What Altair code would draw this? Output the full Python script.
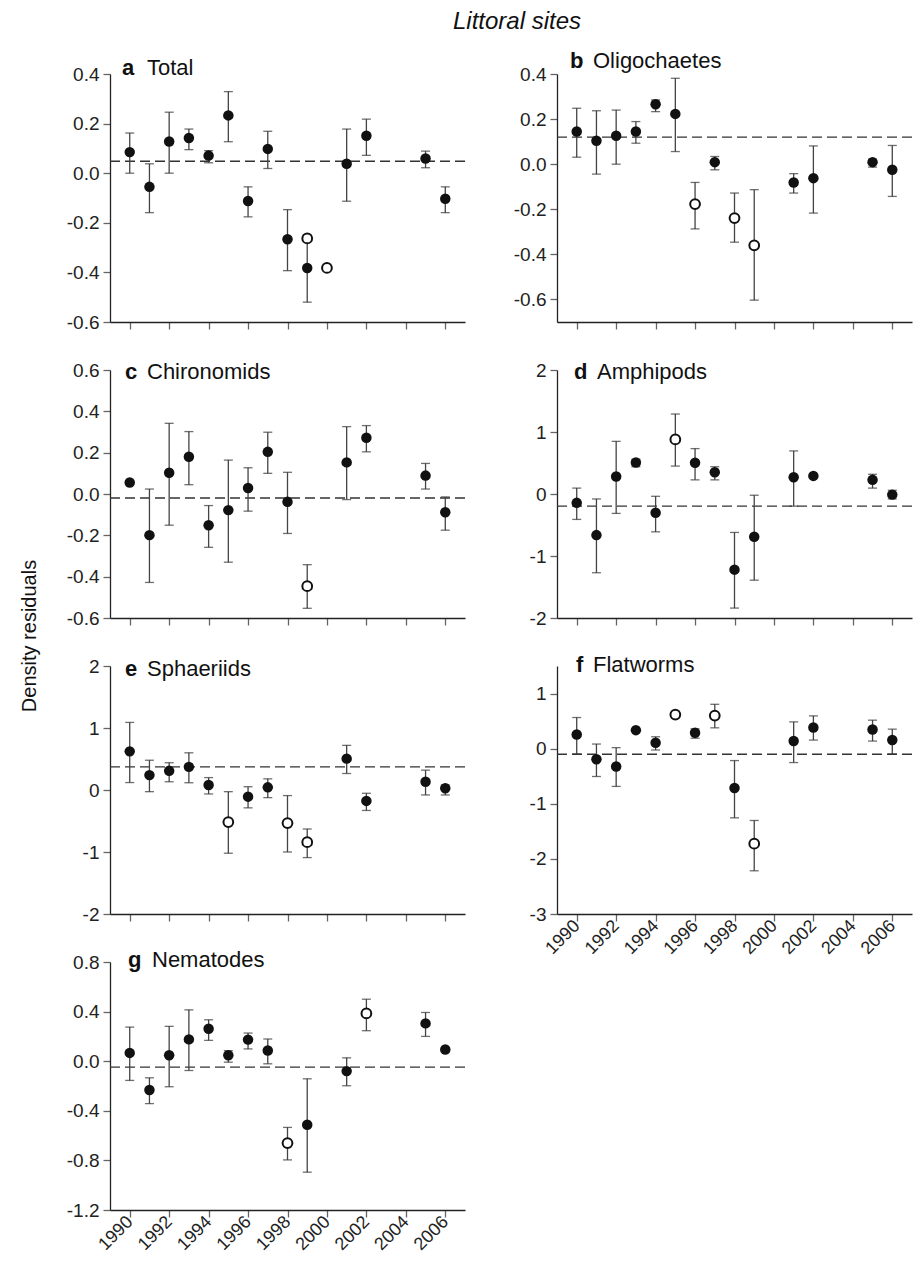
import altair as alt
import pandas as pd

FONT = "Liberation Sans"

# ---------------- data ----------------
YEARS = [1990, 1991, 1992, 1993, 1994, 1995, 1996, 1997, 1998, 1999, 2001, 2002, 2005, 2006]
X_TICKS = [1990, 1992, 1994, 1996, 1998, 2000, 2002, 2004, 2006]

# a Total
a_year = [1990, 1991, 1992, 1993, 1994, 1995, 1996, 1997, 1998, 1999, 1999, 2000, 2001, 2002, 2005, 2006]
a_val = [0.085, -0.055, 0.128, 0.142, 0.071, 0.233, -0.112, 0.098, -0.266, -0.382, -0.263, -0.382, 0.038, 0.151, 0.059, -0.103]
a_lo = [0.0, -0.159, 0.0, 0.095, 0.042, 0.127, -0.176, 0.019, -0.393, -0.52, None, None, -0.113, 0.072, 0.022, -0.159]
a_hi = [0.162, 0.038, 0.246, 0.178, 0.091, 0.329, -0.055, 0.169, -0.147, -0.25, None, None, 0.178, 0.218, 0.089, -0.055]
a_open = [0, 0, 0, 0, 0, 0, 0, 0, 0, 0, 1, 1, 0, 0, 0, 0]
a_mean = 0.048

# b Oligochaetes
b_val = [0.145, 0.104, 0.126, 0.145, 0.266, 0.223, -0.177, 0.009, -0.239, -0.360, -0.081, -0.062, 0.009, -0.025]
b_lo = [0.031, -0.044, 0.0, 0.093, 0.233, 0.056, -0.287, -0.025, -0.346, -0.603, -0.128, -0.217, -0.013, -0.143]
b_hi = [0.248, 0.237, 0.24, 0.189, 0.285, 0.381, -0.081, 0.034, -0.128, -0.113, -0.042, 0.081, 0.022, 0.083]
b_open = [0, 0, 0, 0, 0, 0, 1, 0, 1, 1, 0, 0, 0, 0]
b_mean = 0.12

# c Chironomids
c_val = [0.056, -0.199, 0.103, 0.18, -0.151, -0.078, 0.029, 0.204, -0.038, -0.446, 0.153, 0.272, 0.089, -0.088]
c_lo = [None, -0.428, -0.151, 0.045, -0.258, -0.33, -0.083, 0.1, -0.191, -0.553, -0.027, 0.204, 0.024, -0.175]
c_hi = [None, 0.024, 0.342, 0.302, -0.056, 0.164, 0.127, 0.299, 0.105, -0.342, 0.326, 0.331, 0.148, -0.014]
c_open = [0, 0, 0, 0, 0, 0, 0, 0, 0, 1, 0, 0, 0, 0]
c_mean = -0.019

# d Amphipods
d_val = [-0.143, -0.663, 0.281, 0.509, -0.302, 0.88, 0.504, 0.35, -1.22, -0.69, 0.27, 0.292, 0.228, -0.01]
d_lo = [-0.41, -1.27, -0.313, 0.44, -0.61, 0.45, 0.228, 0.228, -1.84, -1.39, -0.196, None, 0.095, -0.08]
d_hi = [0.095, -0.08, 0.849, 0.56, -0.037, 1.29, 0.732, 0.44, -0.62, -0.02, 0.695, None, 0.318, 0.06]
d_open = [0, 0, 0, 0, 0, 1, 0, 0, 0, 0, 0, 0, 0, 0]
d_mean = -0.196

# e Sphaeriids
e_val = [0.623, 0.24, 0.309, 0.373, 0.08, -0.517, -0.107, 0.043, -0.533, -0.842, 0.506, -0.176, 0.133, 0.027]
e_lo = [0.12, -0.027, 0.133, 0.117, -0.064, -1.02, -0.288, -0.123, -1.0, -1.09, 0.266, -0.33, -0.08, -0.08]
e_hi = [1.09, 0.48, 0.44, 0.6, 0.2, -0.027, 0.053, 0.18, -0.09, -0.629, 0.72, -0.053, 0.32, 0.08]
e_open = [0, 0, 0, 0, 0, 1, 0, 0, 1, 1, 0, 0, 0, 0]
e_mean = 0.373

# f Flatworms
f_val = [0.258, -0.192, -0.324, 0.336, 0.108, 0.619, 0.288, 0.60, -0.715, -1.724, 0.138, 0.384, 0.348, 0.156]
f_lo = [-0.096, -0.505, -0.685, None, -0.024, None, 0.19, 0.378, -1.255, -2.216, -0.252, 0.156, 0.138, -0.096]
f_hi = [0.565, 0.084, 0.018, None, 0.216, None, 0.36, 0.805, -0.216, -1.303, 0.486, 0.595, 0.517, 0.354]
f_open = [0, 0, 0, 0, 0, 1, 0, 1, 0, 1, 0, 0, 0, 0]
f_mean = -0.1

# g Nematodes
g_val = [0.067, -0.232, 0.048, 0.176, 0.262, 0.048, 0.174, 0.086, -0.66, -0.513, -0.08, 0.385, 0.305, 0.094]
g_lo = [-0.155, -0.342, -0.206, -0.075, 0.168, -0.008, 0.099, -0.021, -0.796, -0.895, -0.198, 0.246, 0.2, None]
g_hi = [0.275, -0.134, 0.281, 0.414, 0.334, 0.085, 0.227, 0.179, -0.534, -0.142, 0.027, 0.5, 0.393, None]
g_open = [0, 0, 0, 0, 0, 0, 0, 0, 1, 0, 0, 1, 0, 0]
g_mean = -0.048

# ---------------- layout / style ----------------
W, H = 355, 248
DEC_FMT = "(datum.value < 0 ? '-' : '') + format(abs(datum.value), '.1f')"
INT_FMT = "(datum.value < 0 ? '-' : '') + format(abs(datum.value), 'd')"


def frame(year, val, lo, hi, opn):
    return pd.DataFrame({"year": year, "val": val, "lo": lo, "hi": hi, "open": opn})


def panel(letter, name, df, mean, ydom, yticks, fmt, xlabels, pos, extra=None):
    lx, ly, nx = pos
    xenc = alt.X("year:Q",
                 scale=alt.Scale(domain=[1989, 2007], nice=False, zero=False),
                 axis=alt.Axis(values=X_TICKS, format="d", labels=xlabels, labelAngle=-45,
                               labelAlign="right", labelBaseline="middle",
                               labelOverlap=False, labelFontSize=18, labelPadding=2,
                               title=None))
    yaxis = alt.Axis(values=yticks, labelExpr=fmt, title=None)
    yscale = alt.Scale(domain=ydom, nice=False, zero=False)

    bars = df.dropna(subset=["lo", "hi"])
    filled = df[df["open"] == 0]
    opened = df[df["open"] == 1]

    layers = [
        alt.Chart(pd.DataFrame({"m": [mean]})).mark_rule(
            color="#333", strokeWidth=1.4, strokeDash=[10, 5]
        ).encode(y=alt.Y("m:Q", scale=yscale, axis=yaxis)),
        alt.Chart(bars).mark_rule(color="#444", strokeWidth=1.3).encode(
            x=xenc, y=alt.Y("lo:Q", scale=yscale, axis=yaxis), y2="hi:Q"),
        alt.Chart(bars).mark_tick(orient="horizontal", size=9, thickness=1.3, color="#333").encode(
            x=xenc, y=alt.Y("lo:Q", scale=yscale, axis=yaxis)),
        alt.Chart(bars).mark_tick(orient="horizontal", size=9, thickness=1.3, color="#333").encode(
            x=xenc, y=alt.Y("hi:Q", scale=yscale, axis=yaxis)),
        alt.Chart(filled).mark_point(shape="circle", filled=True, size=110, color="#111",
                                     opacity=1).encode(
            x=xenc, y=alt.Y("val:Q", scale=yscale, axis=yaxis)),
        alt.Chart(opened).mark_point(shape="circle", filled=False, size=95, fill="white",
                                     fillOpacity=1, stroke="#111", strokeWidth=2,
                                     opacity=1).encode(
            x=xenc, y=alt.Y("val:Q", scale=yscale, axis=yaxis)),
        alt.Chart(pd.DataFrame({"t": [letter]})).mark_text(
            align="left", baseline="alphabetic", font=FONT, fontSize=22, fontWeight="bold",
            color="#111").encode(x=alt.value(lx), y=alt.value(ly), text="t:N"),
        alt.Chart(pd.DataFrame({"t": [name]})).mark_text(
            align="left", baseline="alphabetic", font=FONT, fontSize=22, color="#111").encode(
            x=alt.value(nx), y=alt.value(ly), text="t:N"),
    ]
    if extra is not None:
        layers.extend(extra)
    return alt.layer(*layers).properties(width=W, height=H)


main_title = alt.Chart(pd.DataFrame({"t": ["Littoral sites"]})).mark_text(
    align="center", baseline="middle", font=FONT, fontSize=24, fontStyle="italic",
    color="#111").encode(x=alt.value(-40), y=alt.value(-52), text="t:N")

y_title = alt.Chart(pd.DataFrame({"t": ["Density residuals"]})).mark_text(
    align="center", baseline="middle", font=FONT, fontSize=20, angle=270,
    color="#111").encode(x=alt.value(-80), y=alt.value(-30), text="t:N")

pa = panel("a", "Total", frame(a_year, a_val, a_lo, a_hi, a_open), a_mean, [-0.6, 0.4],
           [-0.6, -0.4, -0.2, 0.0, 0.2, 0.4], DEC_FMT, False, (12, 1, 37))
pb = panel("b", "Oligochaetes", frame(YEARS, b_val, b_lo, b_hi, b_open), b_mean, [-0.7, 0.4],
           [-0.6, -0.4, -0.2, 0.0, 0.2, 0.4], DEC_FMT, False, (13, -6, 36), [main_title])
pc = panel("c", "Chironomids", frame(YEARS, c_val, c_lo, c_hi, c_open), c_mean, [-0.6, 0.6],
           [-0.6, -0.4, -0.2, 0.0, 0.2, 0.4, 0.6], DEC_FMT, False, (15, 9, 37))
pd_ = panel("d", "Amphipods", frame(YEARS, d_val, d_lo, d_hi, d_open), d_mean, [-2, 2],
            [-2, -1, 0, 1, 2], INT_FMT, False, (17, 9, 40))
pe = panel("e", "Sphaeriids", frame(YEARS, e_val, e_lo, e_hi, e_open), e_mean, [-2, 2],
           [-2, -1, 0, 1, 2], INT_FMT, False, (15, 10, 37), [y_title])
pf = panel("f", "Flatworms", frame(YEARS, f_val, f_lo, f_hi, f_open), f_mean, [-3, 1.5],
           [-3, -2, -1, 0, 1], INT_FMT, True, (19, 6, 36))
pg = panel("g", "Nematodes", frame(YEARS, g_val, g_lo, g_hi, g_open), g_mean, [-1.2, 0.8],
           [-1.2, -0.8, -0.4, 0.0, 0.4, 0.8], DEC_FMT, True, (18, 5, 42))

chart = alt.concat(pa, pb, pc, pd_, pe, pf, pg, columns=2,
                   spacing={"row": 48, "column": 92}, bounds="flush").properties(
    padding={"left": 11, "top": 2, "right": 0, "bottom": 0},
    background="white",
).configure_view(stroke=None).configure_axis(
    grid=False, domainColor="#222", domainWidth=1.3, tickColor="#666", tickWidth=1.3,
    tickSize=7, labelFont=FONT, labelFontSize=19, labelColor="#222", labelPadding=4,
)

chart.save("out.html", embed_options={"renderer": "svg", "actions": False})
